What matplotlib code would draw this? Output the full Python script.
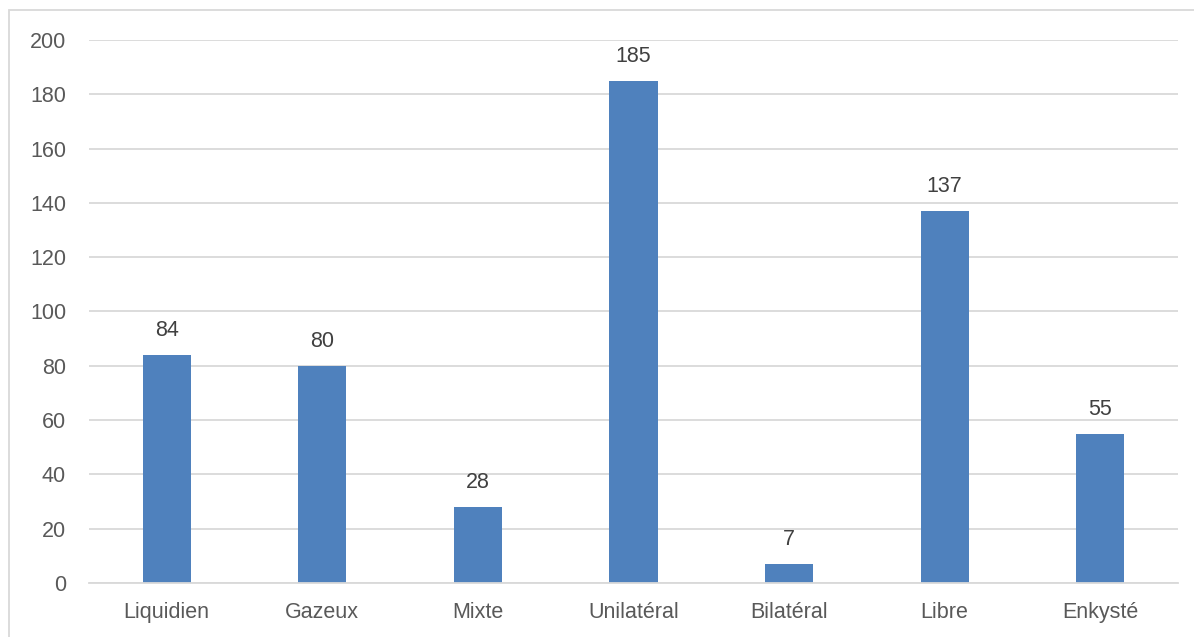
import matplotlib.pyplot as plt
import matplotlib.patches as mpatches
from matplotlib.ticker import MultipleLocator

# categories and counts
categories = ["Liquidien", "Gazeux", "Mixte", "Unilatéral", "Bilatéral", "Libre", "Enkysté"]
counts = [84, 80, 28, 185, 7, 137, 55]

bar_color = "#4F81BD"
grid_color = "#D9D9D9"
text_color = "#595959"

plt.rcParams["font.family"] = ["Liberation Sans", "DejaVu Sans"]

fig = plt.figure(figsize=(11.94, 6.37), dpi=100)
ax = fig.add_axes([0.0745, 0.0848, 0.9121, 0.8524])

x = range(len(categories))
bars = ax.bar(x, counts, width=0.31, color=bar_color, zorder=2)

# value labels above each bar
for rect, val in zip(bars, counts):
    ax.annotate(str(val), (rect.get_x() + rect.get_width() / 2, val),
                xytext=(0, 10), textcoords="offset points",
                ha="center", va="bottom", fontsize=15.5, color="#404040")

ax.set_xlim(-0.5, len(categories) - 0.5)
ax.set_ylim(0, 200)
ax.yaxis.set_major_locator(MultipleLocator(20))
ax.set_xticks(list(x))
ax.set_xticklabels(categories)
ax.tick_params(axis="both", length=0, labelsize=15.5, labelcolor=text_color)
ax.tick_params(axis="y", pad=16.5)
ax.tick_params(axis="x", pad=14)

ax.grid(axis="y", color=grid_color, linewidth=1.3, zorder=0)
ax.set_axisbelow(True)
for side in ["top", "right", "left"]:
    ax.spines[side].set_visible(False)
ax.spines["bottom"].set_color(grid_color)
ax.spines["bottom"].set_linewidth(1.3)

# chart frame (left and top edges visible)
frame = mpatches.Rectangle((9 / 1194, -0.05), 1.2, 1 - 10 / 637 + 0.05,
                           transform=fig.transFigure, fill=False,
                           edgecolor="#D9D9D9", linewidth=1.3)
fig.patches.append(frame)

fig.savefig("out.png", dpi=100)
